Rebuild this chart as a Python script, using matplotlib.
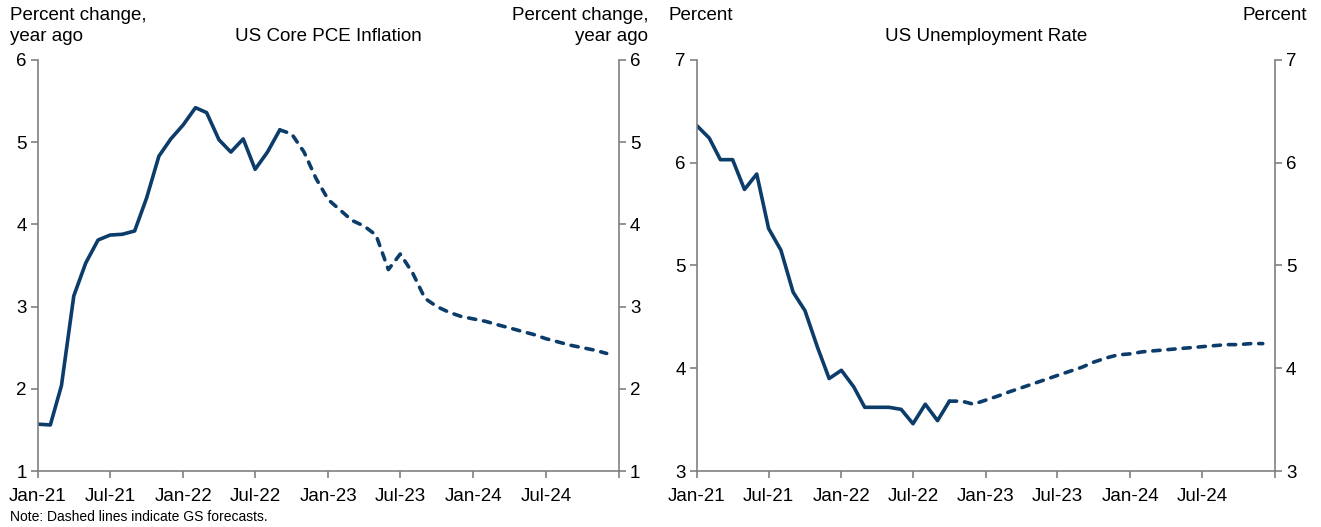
import matplotlib
matplotlib.use('Agg')
import matplotlib.pyplot as plt
import pandas as pd

plt.rcParams['font.family'] = ['Liberation Sans', 'DejaVu Sans']

months = pd.date_range('2021-01-01', '2024-12-01', freq='MS')

core_pce = [1.57, 1.56, 2.04, 3.13, 3.53, 3.81, 3.87, 3.88, 3.92, 4.32,
            4.83, 5.04, 5.21, 5.42, 5.36, 5.03, 4.88, 5.04, 4.67, 4.88,
            5.15, 5.10, 4.88, 4.56, 4.30, 4.17, 4.05, 3.98, 3.87, 3.45,
            3.64, 3.41, 3.10, 3.00, 2.93, 2.88, 2.85, 2.82, 2.78, 2.74,
            2.70, 2.66, 2.61, 2.57, 2.53, 2.50, 2.47, 2.43]
pce_last_actual = 20  # Sep-22

unemployment = [6.36, 6.24, 6.03, 6.03, 5.74, 5.89, 5.36, 5.15, 4.74, 4.56,
                4.21, 3.90, 3.98, 3.82, 3.62, 3.62, 3.62, 3.60, 3.46, 3.65,
                3.49, 3.68, 3.68, 3.65, 3.69, 3.73, 3.77, 3.81, 3.85, 3.89,
                3.93, 3.97, 4.01, 4.06, 4.10, 4.13, 4.14, 4.16, 4.17, 4.18,
                4.19, 4.20, 4.21, 4.22, 4.23, 4.23, 4.24, 4.24]
ur_last_actual = 21  # Oct-22

tick_dates = pd.date_range('2021-01-01', '2025-01-01', freq='6MS')
tick_labels = [d.strftime('%b-%y') for d in tick_dates[:-1]] + ['']

LINE = '#0c3c69'
GRID = '#808080'
W, H = 1321, 527

fig = plt.figure(figsize=(W / 100, H / 100), dpi=100)


def setup(ax, values, split, ylim, title):
    ax.plot(months[:split + 1], values[:split + 1], color=LINE, lw=2.6,
            solid_joinstyle='round', solid_capstyle='round')
    ax.plot(months[split:], values[split:], color=LINE, lw=2.6,
            dashes=(2.0, 2.2), dash_capstyle='round')
    ax.set_xlim(tick_dates[0], tick_dates[-1])
    ax.set_ylim(*ylim)
    ax.set_yticks(range(ylim[0], ylim[1] + 1))
    ax.set_xticks(tick_dates)
    ax.set_xticklabels(tick_labels)
    ax.spines['top'].set_visible(False)
    for s in ['left', 'right', 'bottom']:
        ax.spines[s].set_color(GRID)
        ax.spines[s].set_linewidth(1.2)
    ax.tick_params(axis='both', colors=GRID, labelcolor='black',
                   labelsize=13.5, length=5, width=1.2, direction='out')
    ax.tick_params(axis='y', left=True, right=True, labelleft=True,
                   labelright=True, pad=3)
    ax.tick_params(axis='x', pad=7)
    ax.set_title(title, fontsize=13.5, pad=14)


def corner(x, text, ha):
    fig.text(x / W, 1 - 7 / H, text, ha=ha, va='top', fontsize=13.5,
             linespacing=1.3, multialignment=ha)


ax1 = fig.add_axes([38 / W, 56 / H, 581 / W, 411 / H])
setup(ax1, core_pce, pce_last_actual, (1, 6), 'US Core PCE Inflation')
corner(10, 'Percent change,\nyear ago', 'left')
corner(648, 'Percent change,\nyear ago', 'right')

ax2 = fig.add_axes([697 / W, 56 / H, 578 / W, 411 / H])
setup(ax2, unemployment, ur_last_actual, (3, 7), 'US Unemployment Rate')
corner(669, 'Percent', 'left')
corner(1307, 'Percent', 'right')

fig.text(10 / W, 3 / H, 'Note: Dashed lines indicate GS forecasts.',
         fontsize=10, ha='left', va='bottom')

fig.savefig('out.png', dpi=100)
